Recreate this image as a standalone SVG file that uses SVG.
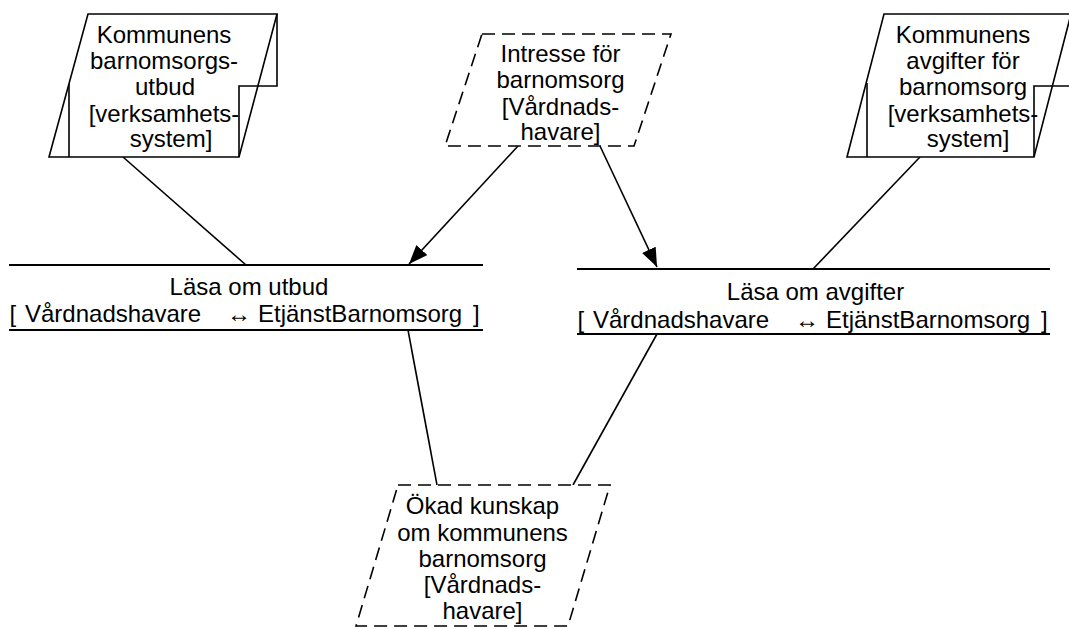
<svg xmlns="http://www.w3.org/2000/svg" width="1069" height="628" viewBox="0 0 1069 628">
<style>
text{font-family:"Liberation Sans",Arial,sans-serif;font-size:24px;fill:#000;text-anchor:middle}
.shape{fill:#fff;stroke:#000;stroke-width:1.6}
.dash{fill:#fff;stroke:#000;stroke-width:1.6;stroke-dasharray:13 7}
.ln{fill:none;stroke:#000;stroke-width:1.6}
.bar{stroke:#000;stroke-width:2}
.conn{stroke:#000;stroke-width:1.6;fill:none}
.arr{text-anchor:middle;font-size:24px}
</style>
<defs>
<marker id="ah" markerUnits="userSpaceOnUse" markerWidth="20" markerHeight="16" refX="19" refY="7.5" orient="auto">
<path d="M0,0 L19,7.5 L0,15 z" fill="#000"/>
</marker>
</defs>
<g id="connectors">
<line class="conn" x1="123" y1="157" x2="246" y2="265"/>
<line class="conn" x1="518" y1="146" x2="409" y2="264" marker-end="url(#ah)"/>
<line class="conn" x1="600" y1="146" x2="657" y2="267" marker-end="url(#ah)"/>
<line class="conn" x1="920" y1="157" x2="813" y2="269"/>
<line class="conn" x1="408" y1="330" x2="437" y2="485"/>
<line class="conn" x1="657" y1="334" x2="573" y2="485"/>
</g>
<g id="n-utbud-data">
<polygon class="shape" points="88,14 277,14 239,157 49,157"/>
<line class="ln" x1="69" y1="84" x2="69" y2="157"/>
<polyline class="ln" points="239,157 239,86 277,86 277,14"/>
<text x="164" y="43">Kommunens</text>
<text x="164" y="69">barnomsorgs-</text>
<text x="165" y="95">utbud</text>
<text x="164" y="121.5">[verksamhets-</text>
<text x="171" y="147">system]</text>
</g>
<g id="n-intresse">
<polygon class="dash" points="482,34 671,34 634,146 445,146"/>
<text x="560.5" y="62">Intresse för</text>
<text x="560.5" y="88">barnomsorg</text>
<text x="560.5" y="115">[Vårdnads-</text>
<text x="560.5" y="140">havare]</text>
</g>
<g id="n-avgifter-data">
<polygon class="shape" points="884,14 1071,14 1034,157 847,157"/>
<line class="ln" x1="867" y1="83" x2="867" y2="157"/>
<polyline class="ln" points="1034,157 1034,86 1072,86"/>
<text x="963" y="43">Kommunens</text>
<text x="963" y="69">avgifter för</text>
<text x="963" y="95">barnomsorg</text>
<text x="963" y="121.5">[verksamhets-</text>
<text x="968" y="147">system]</text>
</g>
<g id="p-utbud">
<line class="bar" x1="9" y1="265" x2="483" y2="265"/>
<line class="bar" x1="9" y1="330" x2="483" y2="330"/>
<text x="249" y="295">Läsa om utbud</text>
<text x="246" y="321.5" style="text-anchor:start"><tspan x="9.5">[</tspan><tspan x="25">Vårdnadshavare</tspan><tspan x="239" class="arr">↔</tspan><tspan x="258">EtjänstBarnomsorg</tspan><tspan x="473">]</tspan></text>
</g>
<g id="p-avgifter">
<line class="bar" x1="577" y1="269" x2="1050" y2="269"/>
<line class="bar" x1="577" y1="334" x2="1050" y2="334"/>
<text x="815.5" y="300">Läsa om avgifter</text>
<text x="813" y="327.5" style="text-anchor:start"><tspan x="577.5">[</tspan><tspan x="593">Vårdnadshavare</tspan><tspan x="807" class="arr">↔</tspan><tspan x="826">EtjänstBarnomsorg</tspan><tspan x="1041">]</tspan></text>
</g>
<g id="n-okad">
<polygon class="dash" points="398,485 610,485 568,626 356,626"/>
<text x="482.5" y="514">Ökad kunskap</text>
<text x="482.5" y="540.5">om kommunens</text>
<text x="482.5" y="566.5">barnomsorg</text>
<text x="482.5" y="593">[Vårdnads-</text>
<text x="482.5" y="618.5">havare]</text>
</g>
</svg>
